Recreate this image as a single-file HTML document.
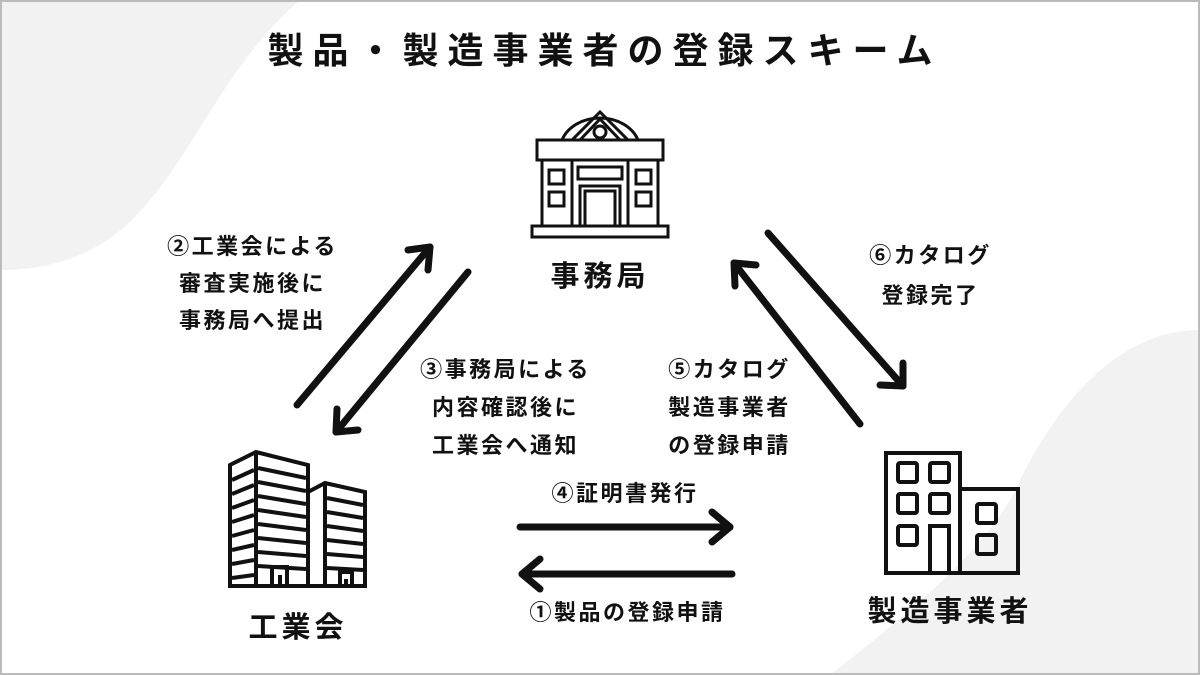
<!DOCTYPE html>
<html><head><meta charset="utf-8"><style>
body{margin:0;width:1200px;height:675px;overflow:hidden;background:#fff;font-family:"Liberation Sans","Noto Sans CJK JP",sans-serif}
.t{position:absolute;font-weight:bold;color:#111;text-align:center;white-space:nowrap}
.s{font-size:22px;letter-spacing:2.5px}
</style></head><body>
<svg width="1200" height="675" style="position:absolute;left:0;top:0">
<path d="M0 0 H300 C230 60 200 140 150 200 C110 250 60 270 0 270 Z" fill="#f2f2f2"/>
<path d="M1200 330 C1120 330 1060 400 1020 480 C990 550 900 620 830 675 H1200 Z" fill="#f2f2f2"/>
<rect x="1" y="1" width="1198" height="673" fill="none" stroke="#bbb" stroke-width="2"/>
<g fill="none" stroke="#111" stroke-width="3">
<path d="M562 140 A40 32 0 0 1 638 140"/>
<path d="M572 140 L600 112 L628 140"/>
<path d="M580 140 L600 119 L620 140"/>
<circle cx="600" cy="132" r="6"/>
<rect x="537" y="140" width="126" height="20"/>
<rect x="542" y="160" width="116" height="66"/>
<line x1="572" y1="160" x2="572" y2="226"/><line x1="628" y1="160" x2="628" y2="226"/>
<rect x="549" y="170" width="15" height="14"/><rect x="549" y="192" width="15" height="14"/>
<rect x="636" y="170" width="15" height="14"/><rect x="636" y="192" width="15" height="14"/>
<rect x="578" y="167" width="44" height="12"/>
<rect x="580" y="186" width="40" height="40"/><rect x="585" y="191" width="30" height="35"/>
<rect x="532" y="226" width="136" height="11"/>
</g>
<g fill="none" stroke="#111" stroke-width="4">
<path d="M230 586 V465 L256 452 L308 465 V586"/>
<path d="M308 492 L325 483 L365 492 V586"/>
<line x1="256" y1="452" x2="256" y2="586"/>
<line x1="325" y1="483" x2="325" y2="586"/>
<line x1="228" y1="586" x2="367" y2="586"/>
<path d="M232 480 L254 470 M232 494 L254 485 M232 508 L254 500 M232 522 L254 515 M232 536 L254 530 M232 550 L254 545 M232 564 L254 560 M232 578 L254 575"/>
<path d="M258 468 L306 478 M258 482 L306 491 M258 496 L306 504 M258 510 L306 517 M258 524 L306 530 M258 538 L306 543 M258 552 L306 556 M258 566 L306 569"/>
<path d="M327 498 L363 505 M327 512 L363 518 M327 526 L363 531 M327 540 L363 544 M327 554 L363 557 M327 568 L363 570"/>
<path d="M272 586 V567 H287 V586 M280 586 V575"/>
<path d="M340 586 V572 H352 V586 M346 586 V579"/>
<rect x="886" y="453" width="74" height="120"/>
<rect x="960" y="489" width="58" height="84"/>
<rect x="898" y="463" width="19" height="19" rx="2"/><rect x="930" y="463" width="19" height="19" rx="2"/>
<rect x="898" y="494" width="19" height="19" rx="2"/><rect x="930" y="494" width="19" height="19" rx="2"/>
<rect x="898" y="526" width="19" height="19" rx="2"/>
<rect x="930" y="526" width="19" height="47"/>
<rect x="977" y="504" width="19" height="19" rx="2"/><rect x="977" y="535" width="19" height="19" rx="2"/>
</g>
<g stroke="#111" stroke-width="7" fill="none" stroke-linecap="round" stroke-linejoin="round">
<line x1="297" y1="405" x2="430" y2="247"/><path d="M408 250 L430 247 L428 270"/>
<line x1="468" y1="272" x2="336" y2="432"/><path d="M337 409 L336 432 L358 430"/>
<line x1="768" y1="233" x2="903" y2="386"/><path d="M903 363 L903 386 L880 385"/>
<line x1="860" y1="424" x2="734" y2="263"/><path d="M756 265 L734 263 L735 286"/>
<line x1="520" y1="527" x2="730" y2="527"/><path d="M712 512 L730 527 L712 542"/>
<line x1="732" y1="574" x2="522" y2="574"/><path d="M540 559 L522 574 L540 589"/>
</g>
</svg>
<div class="t" style="left:0;width:1200px;top:22px;font-size:36px;letter-spacing:9px;padding-left:9px;box-sizing:border-box;width:1200px">製品・製造事業者の登録スキーム</div>
<div class="t" style="left:530px;width:140px;top:253px;font-size:29px;letter-spacing:4px">事務局</div>
<div class="t" style="left:228px;width:140px;top:604px;font-size:29px;letter-spacing:4px">工業会</div>
<div class="t" style="left:850px;width:200px;top:588px;font-size:29px;letter-spacing:4px">製造事業者</div>
<div class="t s" style="left:140px;width:225px;top:228px;line-height:37px">②工業会による<br>審査実施後に<br>事務局へ提出</div>
<div class="t s" style="left:393px;width:225px;top:351px;line-height:38px">③事務局による<br>内容確認後に<br>工業会へ通知</div>
<div class="t s" style="left:617px;width:225px;top:351px;line-height:38px">⑤カタログ<br>製造事業者<br>の登録申請</div>
<div class="t s" style="left:818px;width:225px;top:236px;line-height:40px">⑥カタログ<br>登録完了</div>
<div class="t s" style="left:515px;width:220px;top:476px">④証明書発行</div>
<div class="t s" style="left:515px;width:225px;top:595px">①製品の登録申請</div>
</body></html>
